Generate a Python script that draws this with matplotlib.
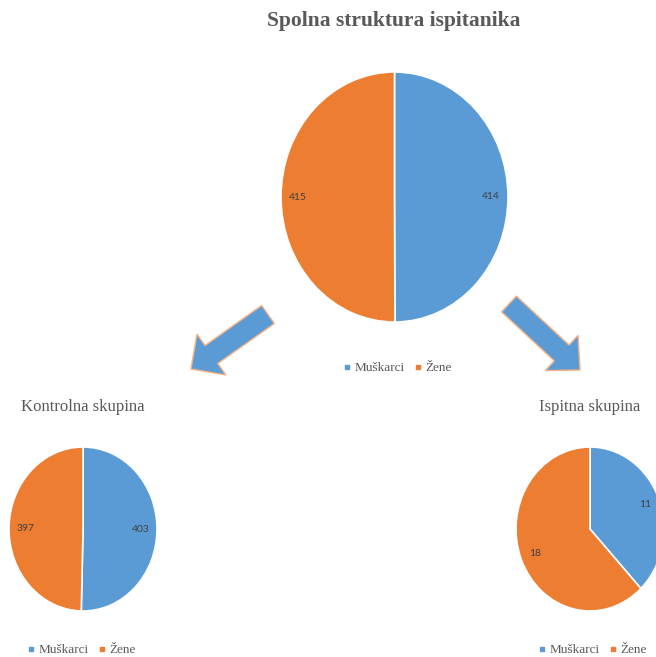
import matplotlib
matplotlib.use('Agg')
import matplotlib.pyplot as plt
from matplotlib.patches import FancyArrow
from matplotlib.lines import Line2D

categories = ['Muškarci', 'Žene']
ukupno = [414, 415]
kontrolna = [403, 397]
ispitna = [11, 18]
title_main = 'Spolna struktura ispitanika'
title_k = 'Kontrolna skupina'
title_i = 'Ispitna skupina'
colors = ['#5B9BD5', '#ED7D31']

W, H = 656, 657
fig = plt.figure(figsize=(W / 100, H / 100), dpi=100)
fig.patch.set_facecolor('white')

overlay = fig.add_axes([0, 0, 1, 1])
overlay.set_xlim(0, W)
overlay.set_ylim(H, 0)
overlay.axis('off')


def pie_axes(x0, x1, y0, y1, values, ldist):
    ax = fig.add_axes([x0 / W, 1 - y1 / H, (x1 - x0) / W, (y1 - y0) / H])
    wedges, texts = ax.pie(values, colors=colors, startangle=90, counterclock=False,
                           labels=[str(v) for v in values], labeldistance=ldist,
                           wedgeprops=dict(edgecolor='white', linewidth=1.2),
                           textprops=dict(fontsize=7.5, color='#404040', family='Lato'))
    for t in texts:
        t.set_ha('center')
        t.set_va('center')
    ax.set_aspect('auto')
    ax.set_xlim(-1, 1)
    ax.set_ylim(-1, 1)
    ax.axis('off')
    return ax


def legend_at(x, y):
    handles = [Line2D([], [], marker='s', linestyle='none', markersize=3.5, color=c) for c in colors]
    fig.legend(handles, categories, loc='center', bbox_to_anchor=(x / W, 1 - y / H), ncol=2,
               frameon=False, prop=dict(family='Liberation Serif', size=9.5),
               labelcolor='#595959', handlelength=0.5, handletextpad=0.3, columnspacing=0.8,
               borderpad=0.1, borderaxespad=0)


pie_axes(281, 508, 72, 322, ukupno, 0.85)
pie_axes(9, 157, 447, 611, kontrolna, 0.78)
pie_axes(516, 664, 447, 611, ispitna, 0.8)

legend_at(398, 368)
legend_at(82, 650)
legend_at(593, 650)

overlay.text(394, 21, title_main, ha='center', va='center', fontsize=15.5, fontweight='bold',
             family='Liberation Serif', color='#595959')
overlay.text(83, 407, title_k, ha='center', va='center', fontsize=12,
             family='Liberation Serif', color='#595959')
overlay.text(590, 407, title_i, ha='center', va='center', fontsize=12,
             family='Liberation Serif', color='#595959')

overlay.add_patch(FancyArrow(268, 314.5, -77, 54.5, width=22, head_width=50, head_length=25,
                             length_includes_head=True, facecolor='#5B9BD5',
                             edgecolor='#F4B183', linewidth=1))
overlay.add_patch(FancyArrow(509, 304, 71, 66, width=21.6, head_width=48, head_length=25,
                             length_includes_head=True, facecolor='#5B9BD5',
                             edgecolor='#F4B183', linewidth=1))

fig.savefig('out.png', dpi=100, facecolor='white')
